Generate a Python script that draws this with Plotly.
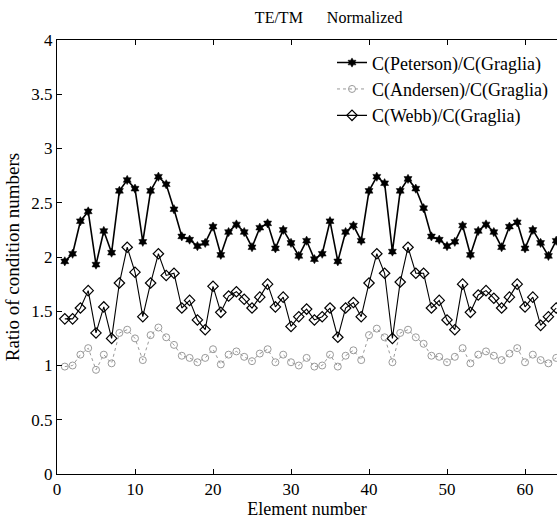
import plotly.graph_objects as go

elements = list(range(1, 65))

peterson = [1.96, 2.03, 2.33, 2.42, 1.93, 2.24, 2.04, 2.61, 2.71, 2.63, 2.14, 2.61, 2.74, 2.67, 2.44, 2.19,
            2.16, 2.10, 2.13, 2.28, 2.02, 2.23, 2.30, 2.23, 2.09, 2.27, 2.31, 2.08, 2.25, 2.13, 2.01, 2.15,
            1.98, 2.03, 2.33, 1.96, 2.23, 2.29, 2.15, 2.61, 2.74, 2.68, 2.05, 2.61, 2.72, 2.63, 2.45, 2.19,
            2.16, 2.10, 2.14, 2.29, 2.02, 2.24, 2.30, 2.23, 2.09, 2.28, 2.32, 2.08, 2.25, 2.13, 2.01, 2.15]

andersen = [0.99, 1.00, 1.10, 1.16, 0.96, 1.10, 1.02, 1.30, 1.33, 1.25, 1.05, 1.28, 1.35, 1.26, 1.19, 1.09,
            1.07, 1.03, 1.07, 1.15, 1.01, 1.10, 1.13, 1.08, 1.04, 1.11, 1.15, 1.03, 1.10, 1.03, 1.00, 1.07,
            0.99, 1.00, 1.10, 0.99, 1.09, 1.14, 1.05, 1.28, 1.34, 1.26, 1.03, 1.30, 1.33, 1.26, 1.20, 1.09,
            1.08, 1.03, 1.08, 1.16, 1.02, 1.10, 1.13, 1.09, 1.05, 1.11, 1.16, 1.03, 1.10, 1.05, 1.02, 1.07]

webb = [1.43, 1.43, 1.53, 1.69, 1.30, 1.54, 1.25, 1.76, 2.09, 1.86, 1.45, 1.76, 2.03, 1.83, 1.85, 1.53,
        1.60, 1.42, 1.33, 1.73, 1.49, 1.64, 1.68, 1.61, 1.53, 1.63, 1.75, 1.54, 1.63, 1.36, 1.45, 1.52,
        1.42, 1.45, 1.53, 1.26, 1.53, 1.58, 1.45, 1.76, 2.03, 1.85, 1.25, 1.77, 2.09, 1.85, 1.85, 1.53,
        1.60, 1.42, 1.33, 1.75, 1.49, 1.65, 1.69, 1.62, 1.53, 1.63, 1.75, 1.54, 1.63, 1.37, 1.45, 1.53]

x_ticks = [0, 10, 20, 30, 40, 50, 60]
y_ticks = [0, 0.5, 1, 1.5, 2, 2.5, 3, 3.5, 4]
y_tick_text = ["0", "0.5", "1", "1.5", "2", "2.5", "3", "3.5", "4"]

FONT = "Liberation Serif, Times New Roman, serif"

fig = go.Figure()
fig.add_trace(go.Scatter(
    x=elements, y=peterson, mode="lines+markers", name="C(Peterson)/C(Graglia)",
    line=dict(color="black", width=1.6),
    marker=dict(symbol="hexagram", size=7, color="black", line=dict(color="black", width=0.5)),
))
fig.add_trace(go.Scatter(
    x=elements, y=andersen, mode="lines+markers", name="C(Andersen)/C(Graglia)",
    line=dict(color="#9a9a9a", width=1, dash="dot"),
    marker=dict(symbol="circle-open", size=7, color="#9a9a9a", line=dict(color="#9a9a9a", width=1)),
))
fig.add_trace(go.Scatter(
    x=elements, y=webb, mode="lines+markers", name="C(Webb)/C(Graglia)",
    line=dict(color="black", width=1.1),
    marker=dict(symbol="diamond-open", size=8, color="black", line=dict(color="black", width=1.2)),
))

fig.update_layout(
    width=557, height=520,
    margin=dict(l=57, r=0, t=40, b=46),
    paper_bgcolor="white", plot_bgcolor="white",
    font=dict(family=FONT, size=16, color="black"),
    title=dict(text="TE/TM      Normalized", x=0.59, xanchor="center", y=0.966, yanchor="middle",
               font=dict(family=FONT, size=16, color="black")),
    showlegend=True,
    legend=dict(x=0.55, y=0.99, xanchor="left", yanchor="top", bgcolor="rgba(255,255,255,0)",
                borderwidth=0, font=dict(family=FONT, size=18, color="black"),
                tracegroupgap=0, itemwidth=30),
    xaxis=dict(range=[0, 64.1], tickvals=x_ticks, ticks="inside", ticklen=5, tickcolor="black",
               showline=True, linecolor="black", linewidth=1, mirror="ticks", showgrid=False,
               zeroline=False, tickfont=dict(family=FONT, size=17),
               title=dict(text="Element number", font=dict(family=FONT, size=18), standoff=0)),
    yaxis=dict(range=[0, 4], tickvals=y_ticks, ticktext=y_tick_text, ticks="inside", ticklen=5,
               tickcolor="black", showline=True, linecolor="black", linewidth=1, mirror=False,
               showgrid=False, zeroline=False, tickfont=dict(family=FONT, size=17),
               title=dict(text="Ratio of condition numbers", font=dict(family=FONT, size=19), standoff=6)),
)

fig.write_html("out.html")
